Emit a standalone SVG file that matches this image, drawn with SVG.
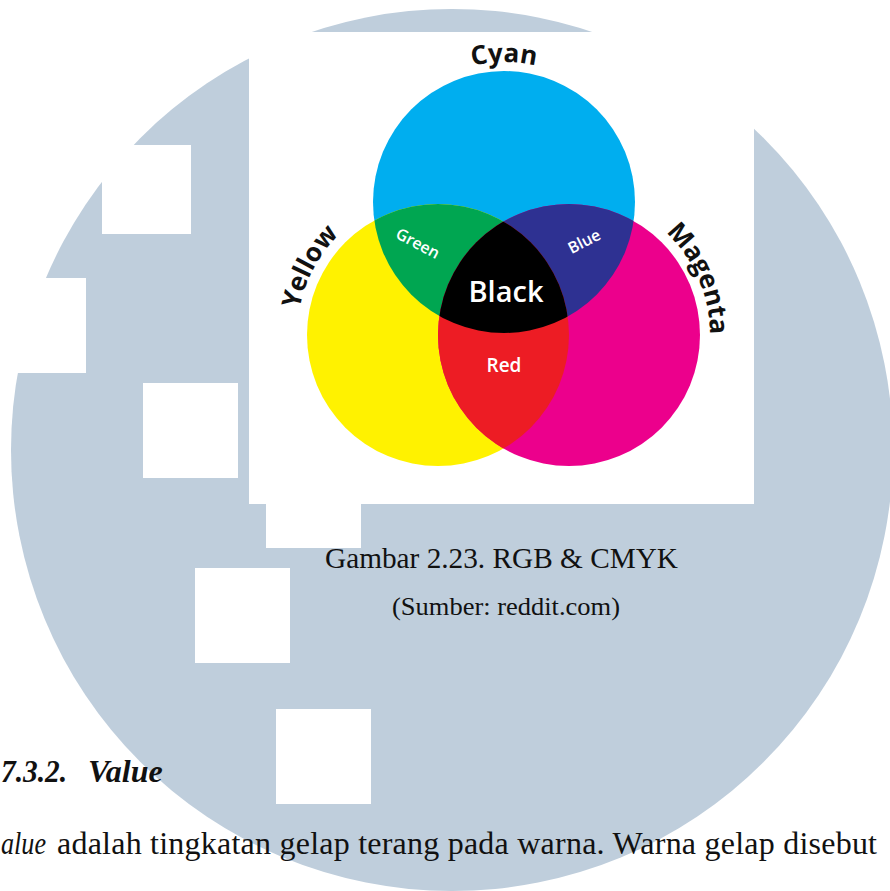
<svg xmlns="http://www.w3.org/2000/svg" width="890" height="891" viewBox="0 0 890 891">
<style>
.sq{fill:#FFFFFF}
.lbl{font-family:"Open Sans","DejaVu Sans",sans-serif;font-weight:700;font-size:26px;fill:#111111}
.in{font-family:"Open Sans","DejaVu Sans",sans-serif;font-weight:600;fill:#FFFFFF}
.cap{font-family:"Liberation Serif","Times New Roman",serif;fill:#111111}
</style>
<defs>
<clipPath id="cC"><circle cx="504" cy="202" r="131"/></clipPath>
<clipPath id="cY"><circle cx="438" cy="335" r="131"/></clipPath>
<path id="pCyan" d="M 380.4 136.3 A 140 140 0 0 1 627.6 136.3"/>
<path id="pYellow" d="M 321.1 413.8 A 141 141 0 0 1 438 194"/>
<path id="pMagenta" d="M 580.1 194.4 A 141 141 0 0 1 679.3 422.8"/>
</defs>
<rect x="0" y="0" width="890" height="891" fill="#FFFFFF"/>
<g id="watermark">
<circle cx="452" cy="450" r="441" fill="#BFCEDC"/>
<rect class="sq" x="102" y="145" width="89" height="89"/>
<rect class="sq" x="-9" y="278" width="95" height="95"/>
<rect class="sq" x="143" y="383" width="95" height="95"/>
<rect class="sq" x="266" y="453" width="95" height="95"/>
<rect class="sq" x="195" y="568" width="95" height="95"/>
<rect class="sq" x="276" y="709" width="95" height="95"/>
</g>
<g id="figure">
<rect x="249" y="32" width="505" height="472" fill="#FFFFFF"/>
<g id="cyan"><circle cx="504" cy="202" r="131" fill="#00AEEF"/></g>
<g id="yellow"><circle cx="438" cy="335" r="131" fill="#FFF200"/></g>
<g id="magenta"><circle cx="569" cy="335" r="131" fill="#EC008C"/></g>
<g id="green"><circle cx="438" cy="335" r="131" fill="#00A651" clip-path="url(#cC)"/></g>
<g id="blue"><circle cx="569" cy="335" r="131" fill="#2E3192" clip-path="url(#cC)"/></g>
<g id="red"><circle cx="569" cy="335" r="131" fill="#ED1C24" clip-path="url(#cY)"/></g>
<g id="black" clip-path="url(#cC)"><circle cx="569" cy="335" r="131" fill="#000000" clip-path="url(#cY)"/></g>
<text class="lbl"><textPath href="#pCyan" startOffset="50%" text-anchor="middle">Cyan</textPath></text>
<text class="lbl"><textPath href="#pYellow" startOffset="50%" text-anchor="middle">Yellow</textPath></text>
<text class="lbl"><textPath href="#pMagenta" startOffset="50%" text-anchor="middle">Magenta</textPath></text>
<text class="in" font-size="16" text-anchor="middle" transform="translate(418,243) rotate(28)" y="6">Green</text>
<text class="in" font-size="16" text-anchor="middle" transform="translate(584,241) rotate(-27)" y="6">Blue</text>
<text class="in" font-size="29" text-anchor="middle" x="506" y="301.5">Black</text>
<text class="in" font-size="19" text-anchor="middle" x="504" y="371.5">Red</text>
</g>
<g id="caption">
<text class="cap" font-size="29" x="325" y="567.5" textLength="353" lengthAdjust="spacingAndGlyphs">Gambar 2.23. RGB &amp; CMYK</text>
<text class="cap" font-size="25" x="392" y="615" textLength="228" lengthAdjust="spacingAndGlyphs">(Sumber: reddit.com)</text>
</g>
<g id="body">
<text class="cap" font-size="32" font-weight="700" font-style="italic" x="1" y="782" textLength="66" lengthAdjust="spacingAndGlyphs">7.3.2.</text>
<text class="cap" font-size="32" font-weight="700" font-style="italic" x="88" y="782">Value</text>
<text class="cap" font-size="32" font-style="italic" x="1" y="854" textLength="45" lengthAdjust="spacingAndGlyphs">alue</text>
<text class="cap" font-size="32" x="57" y="854" textLength="820" lengthAdjust="spacing">adalah tingkatan gelap terang pada warna. Warna gelap disebut</text>
</g>
</svg>
